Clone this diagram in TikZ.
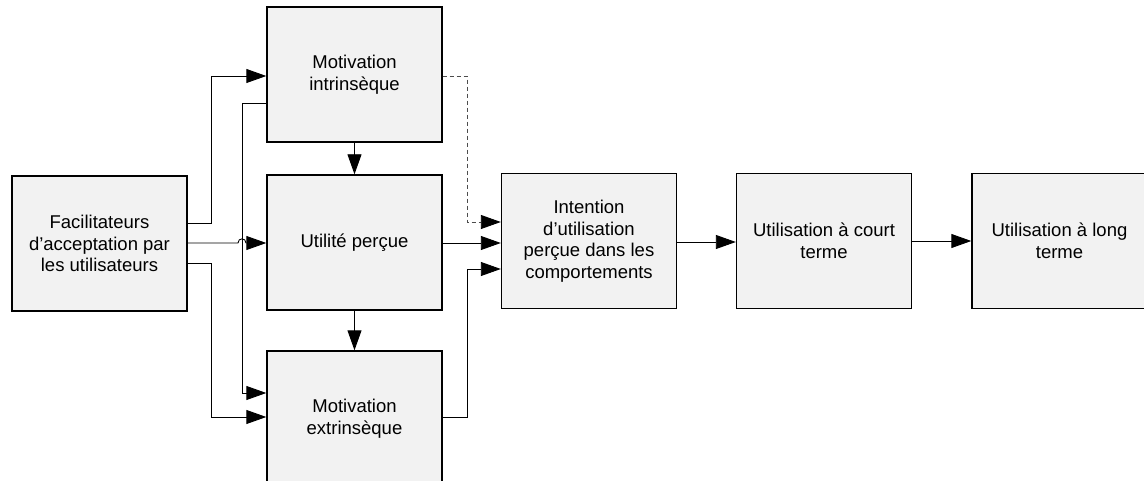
\documentclass[tikz,border=0pt]{standalone}
\usepackage{fontspec}
\setmainfont{Liberation Sans}
\usetikzlibrary{arrows.meta}
\begin{document}
\begin{tikzpicture}[
  x=1pt, y=-1pt,
  box/.style={draw=black, line width=1.4pt, fill=black!5,
    minimum width=175pt, minimum height=135pt, inner sep=0pt,
    align=center, font=\fontsize{18.5}{21.5}\selectfont},
  tip/.style={-{Triangle[length=20pt,width=14pt,color=black]}},
  conn/.style={draw=black, line width=0.9pt, tip},
  dashconn/.style={conn, draw=black!70, dash pattern=on 4pt off 3pt}
]
\useasboundingbox (0,0) rectangle (1144,481);
\clip (0,0) rectangle (1144,481);

% boxes
\node[box] (fac)   at (99.5,243.5) {Facilitateurs\\d’acceptation par\\les utilisateurs};
\node[box] (mi)    at (354.5,74.5) {Motivation\\intrinsèque};
\node[box] (up)    at (354.5,242.5) {Utilité perçue};
\node[box] (me)    at (354.5,418.5) {Motivation\\extrinsèque};
\node[box] (int)   at (589,241) {Intention\\d’utilisation\\perçue dans les\\comportements};
\node[box] (court) at (824,241) {Utilisation à court\\terme};
\node[box] (long)  at (1059.5,241) {Utilisation à long\\terme};

% facilitators to the three motivations
\draw[conn] (fac.east |- 0,223) -- (211,223) -- (211,76) -- (mi.west |- 0,76);
\draw[conn] (fac.east |- 0,243) -- (238,243)
  .. controls (238,237.5) and (246,237.5) .. (246,243) -- (up.west |- 0,243);
\draw[conn] (fac.east |- 0,263) -- (211,263) -- (211,417) -- (me.west |- 0,417);

% intrinsic motivation to the others
\draw[conn] (mi.west |- 0,103) -- (242,103) -- (242,393) -- (me.west |- 0,393);
\draw[conn] (mi.south) -- (up.north);
\draw[conn] (up.south) -- (me.north);

% into the intention box
\draw[dashconn] (mi.east |- 0,76) -- (467,76) -- (467,222) -- (int.west |- 0,222);
\draw[conn] (up.east |- 0,243) -- (int.west |- 0,243);
\draw[conn] (me.east |- 0,417) -- (467,417) -- (467,269) -- (int.west |- 0,269);

% usage chain
\draw[conn] (int.east |- 0,242) -- (court.west |- 0,242);
\draw[conn] (court.east |- 0,241) -- (long.west |- 0,241);
\end{tikzpicture}
\end{document}
